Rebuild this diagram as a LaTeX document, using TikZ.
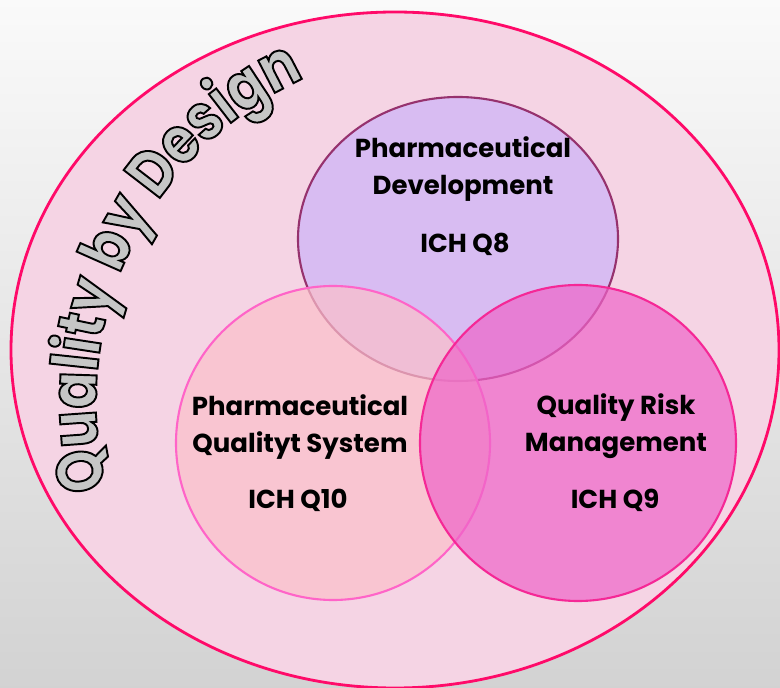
\documentclass[tikz,border=0pt]{standalone}
\usepackage{fontspec}
\newfontfamily\qfont{Poppins}
\newfontfamily\qbdfont{Poppins}[FakeStretch=0.84]
\usetikzlibrary{decorations.text}

\definecolor{outerpink}{RGB}{245,212,228}
\definecolor{outerline}{RGB}{255,10,105}
\definecolor{devfill}{RGB}{204,179,248}
\definecolor{devline}{RGB}{150,50,110}
\definecolor{pqsfill}{RGB}{251,192,202}
\definecolor{pqsline}{RGB}{255,100,200}
\definecolor{qrmfill}{RGB}{238,100,200}
\definecolor{qrmline}{RGB}{245,40,150}

% outlined grey letters for the curved title
\newcommand\qbdstyle{\qbdfont\bfseries\fontsize{37}{40}\selectfont\color{gray!45}\special{pdf:literal direct 2 Tr 1.1 w 0 G}}

\tikzset{
  venn/.style={line width=1.2pt, fill opacity=0.7},
  lbl/.style={font=\qfont\bfseries\fontsize{14.8}{21.5}\selectfont, align=center, anchor=base, inner sep=0pt},
}

\begin{document}
\begin{tikzpicture}[x=0.02cm, y=-0.02cm]
  \useasboundingbox (0,0) rectangle (780,688);

  % Background
  \shade[top color=gray!4, bottom color=gray!35] (0,0) rectangle (780,688);

  % Quality by Design
  \draw[outerline, line width=1.6pt, fill=outerpink] (395,350) ellipse [x radius=384, y radius=338];
  \path[decorate, decoration={text along path, text={|\qbdstyle|Quality by Design}, text align=left}]
    (452,402) ++(166:356) arc[start angle=166, end angle=262, radius=356];

  % The three ICH guidelines
  \draw[venn, devline, fill=devfill] (458,239) ellipse [x radius=160, y radius=142];
  \draw[venn, pqsline, fill=pqsfill] (333,443) circle [radius=157];
  \draw[venn, qrmline, fill=qrmfill] (578,443) circle [radius=158];

  \node (pd) at (463,195) [lbl] {Pharmaceutical\\Development};
  \node (q8) at (465,253) [lbl] {ICH Q8};

  \node (pqs) at (300,453) [lbl] {Pharmaceutical\\Qualityt System};
  \node (q10) at (298,508) [lbl] {ICH Q10};

  \node (qrm) at (616,452) [lbl] {Quality Risk\\Management};
  \node (q9) at (615,508) [lbl] {ICH Q9};

\end{tikzpicture}
\end{document}
